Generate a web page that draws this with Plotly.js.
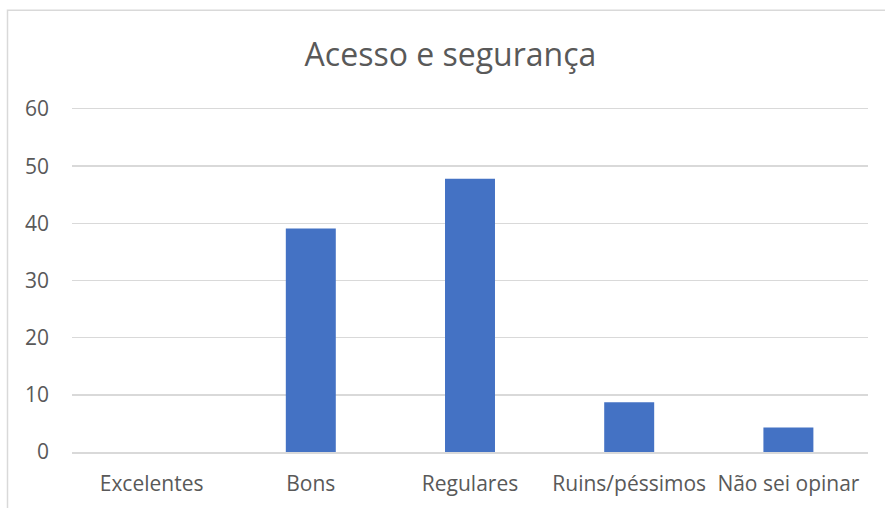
<!DOCTYPE html>
<html>
<head>
<meta charset="utf-8">
<script src="https://cdn.plot.ly/plotly-3.0.1.min.js"></script>
<style>html,body{margin:0;padding:0;background:#fff;}#chart{width:885px;height:508px;}</style>
</head>
<body>
<div id="chart"></div>
<script>
const categories = ["Excelentes", "Bons", "Regulares", "Ruins/péssimos", "Não sei opinar"];
const values = [0, 39.1, 47.8, 8.7, 4.3];
const yTicks = [0, 10, 20, 30, 40, 50, 60];
const chartTitle = "Acesso e segurança";

const textColor = "#595959";
const fontFam = "'Open Sans', sans-serif";

const trace = {
  type: "bar",
  x: categories,
  y: values,
  marker: {color: "#4472C4", line: {width: 0}},
  hoverinfo: "x+y"
};

const layout = {
  width: 885,
  height: 508,
  margin: {l: 72, r: 17, t: 109, b: 55.5},
  paper_bgcolor: "#ffffff",
  plot_bgcolor: "#ffffff",
  bargap: 0.686,
  showlegend: false,
  title: {
    text: chartTitle,
    font: {family: fontFam, size: 32, color: textColor},
    x: 0.509, xanchor: "center",
    y: 1 - 55 / 508, yanchor: "middle", yref: "container"
  },
  xaxis: {
    type: "category",
    showgrid: false,
    showline: true,
    mirror: true,
    linecolor: "#d9d9d9",
    linewidth: 1.5,
    ticks: "",
    ticklabelstandoff: 12,
    tickfont: {family: fontFam, size: 21, color: textColor},
    fixedrange: true
  },
  yaxis: {
    range: [0, 60],
    tickvals: yTicks,
    ticktext: yTicks.map(String),
    showgrid: true,
    gridcolor: "#d9d9d9",
    gridwidth: 1.5,
    zeroline: false,
    showline: false,
    ticks: "",
    ticklabelstandoff: 22,
    tickfont: {family: fontFam, size: 21, color: textColor},
    fixedrange: true
  },
  shapes: [{
    type: "rect", xref: "paper", yref: "paper",
    x0: (7.5 - 72) / 796, x1: 1.2,
    y0: -0.5, y1: (452.5 - 9.5) / 344,
    line: {color: "#d9d9d9", width: 1.5},
    fillcolor: "rgba(0,0,0,0)",
    layer: "below"
  }]
};

Plotly.newPlot("chart", [trace], layout, {displayModeBar: false, staticPlot: true});
</script>
</body>
</html>
